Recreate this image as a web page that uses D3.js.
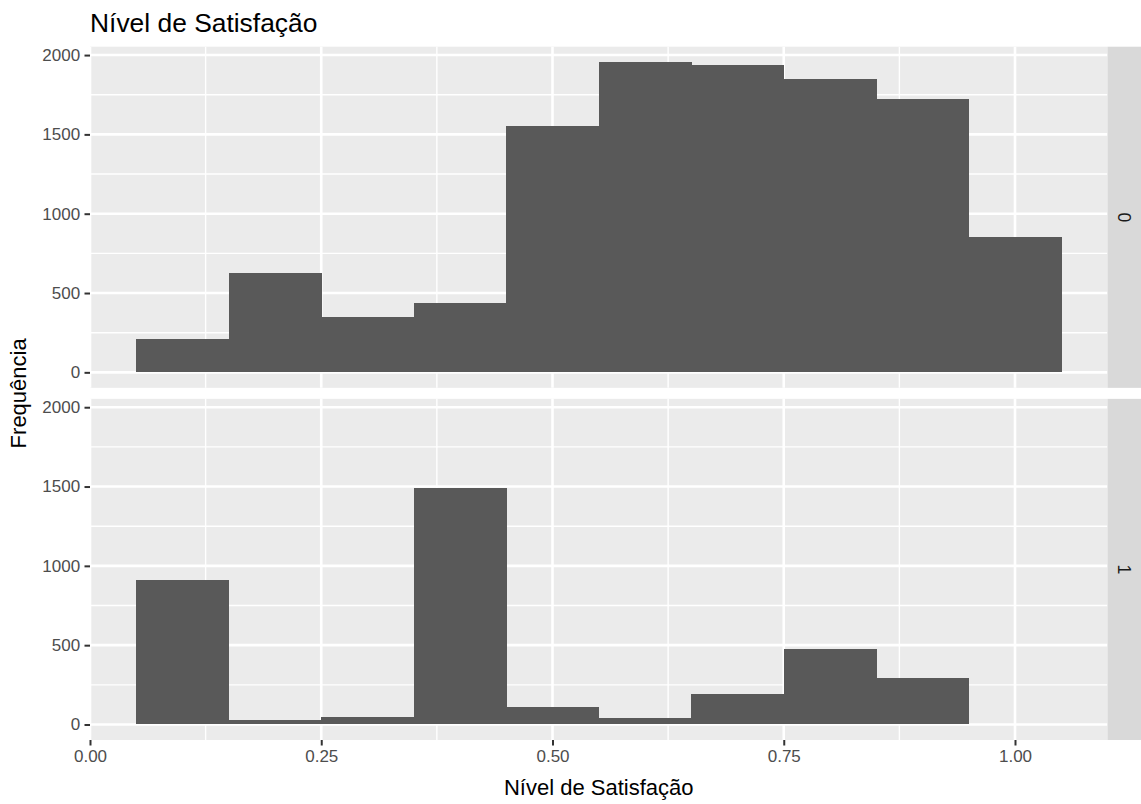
<!DOCTYPE html>
<html>
<head>
<meta charset="utf-8">
<script src="https://cdn.jsdelivr.net/npm/d3@7"></script>
<style>
  html, body { margin: 0; padding: 0; background: #ffffff; }
  svg { display: block; font-family: "Liberation Sans", Arial, sans-serif; }
</style>
</head>
<body>
<svg id="chart" width="1141" height="804"></svg>
<script>
// ---- data ----
const binStarts = [0.05, 0.15, 0.25, 0.35, 0.45, 0.55, 0.65, 0.75, 0.85, 0.95];
const binWidth = 0.1;
const facetLabels = ["0", "1"];
const countsFacet0 = [213, 629, 348, 436, 1552, 1955, 1936, 1848, 1724, 852];
const countsFacet1 = [912, 27, 46, 1489, 113, 42, 190, 477, 294, 0];
const xTicks = [0, 0.25, 0.5, 0.75, 1.0];
const xTickLabels = ["0.00", "0.25", "0.50", "0.75", "1.00"];
const yTicks = [0, 500, 1000, 1500, 2000];
const yTickLabels = ["0", "500", "1000", "1500", "2000"];
const titleText = "Nível de Satisfação";
const xTitle = "Nível de Satisfação";
const yTitle = "Frequência";

// ---- layout ----
const svg = d3.select("#chart");
const panelLeft = 90, panelRight = 1107.5;
const panelTop = 46.7, panelBottom = 740, gap = 11;
const panelH = (panelBottom - panelTop - gap) / 2;
const stripW = 34;

const xMin = d3.min(binStarts), xMax = d3.max(binStarts) + binWidth;
const xPad = (xMax - xMin) * 0.05;
const x = d3.scaleLinear().domain([xMin - xPad, xMax + xPad]).range([panelLeft, panelRight]);

const yMax = d3.max([...countsFacet0, ...countsFacet1]);
const yDom = [-0.05 * yMax, 1.05 * yMax];

const facets = [countsFacet0, countsFacet1];
const xMinor = [0.125, 0.375, 0.625, 0.875];
const yMinor = [250, 750, 1250, 1750];

facets.forEach((counts, i) => {
  const top = panelTop + i * (panelH + gap);
  const bottom = top + panelH;
  const y = d3.scaleLinear().domain(yDom).range([bottom, top]);
  const g = svg.append("g");

  g.append("rect").attr("x", panelLeft).attr("y", top)
    .attr("width", panelRight - panelLeft).attr("height", panelH).attr("fill", "#EBEBEB");

  // minor grid
  g.selectAll(".ymin").data(yMinor).enter().append("line")
    .attr("x1", panelLeft).attr("x2", panelRight)
    .attr("y1", d => y(d)).attr("y2", d => y(d))
    .attr("stroke", "#ffffff").attr("stroke-width", 1.4);
  g.selectAll(".xmin").data(xMinor).enter().append("line")
    .attr("y1", top).attr("y2", bottom)
    .attr("x1", d => x(d)).attr("x2", d => x(d))
    .attr("stroke", "#ffffff").attr("stroke-width", 1.4);
  // major grid
  g.selectAll(".ymaj").data(yTicks).enter().append("line")
    .attr("x1", panelLeft).attr("x2", panelRight)
    .attr("y1", d => y(d)).attr("y2", d => y(d))
    .attr("stroke", "#ffffff").attr("stroke-width", 2.6);
  g.selectAll(".xmaj").data(xTicks).enter().append("line")
    .attr("y1", top).attr("y2", bottom)
    .attr("x1", d => x(d)).attr("x2", d => x(d))
    .attr("stroke", "#ffffff").attr("stroke-width", 2.6);

  // bars
  g.selectAll(".bar").data(binStarts.map((b, k) => ({ b, v: counts[k] }))).enter().append("rect")
    .attr("x", d => x(d.b))
    .attr("width", d => x(d.b + binWidth) - x(d.b) + 0.5)
    .attr("y", d => y(d.v))
    .attr("height", d => y(0) - y(d.v))
    .attr("fill", "#595959")
    .attr("shape-rendering", "crispEdges");

  // y axis
  const yAxis = d3.axisLeft(y).tickValues(yTicks)
    .tickFormat((d, k) => yTickLabels[k]).tickSize(5.5).tickPadding(4.4);
  const ya = g.append("g").attr("transform", `translate(${panelLeft},0)`).call(yAxis);
  ya.select(".domain").remove();
  ya.selectAll(".tick line").attr("stroke", "#333333").attr("stroke-width", 2);
  ya.selectAll(".tick text").attr("fill", "#4D4D4D").attr("font-size", "17px")
    .attr("font-family", "'Liberation Sans', Arial, sans-serif");

  // strip
  g.append("rect").attr("x", panelRight).attr("y", top)
    .attr("width", stripW).attr("height", panelH).attr("fill", "#D9D9D9");
  g.append("text")
    .attr("transform", `translate(${panelRight + stripW / 2},${top + panelH / 2}) rotate(90)`)
    .attr("text-anchor", "middle").attr("dy", "0.35em")
    .attr("font-size", "17.6px").attr("fill", "#1A1A1A")
    .text(facetLabels[i]);
});

// x axis
const xAxis = d3.axisBottom(x).tickValues(xTicks)
  .tickFormat((d, k) => xTickLabels[k]).tickSize(5.5).tickPadding(4.4);
const xa = svg.append("g").attr("transform", `translate(0,${panelBottom})`).call(xAxis);
xa.select(".domain").remove();
xa.selectAll(".tick line").attr("stroke", "#333333").attr("stroke-width", 2);
xa.selectAll(".tick text").attr("fill", "#4D4D4D").attr("font-size", "17px")
  .attr("font-family", "'Liberation Sans', Arial, sans-serif");

// titles
svg.append("text").attr("x", panelLeft).attr("y", 32)
  .attr("font-size", "26.4px").attr("fill", "#000000").text(titleText);
svg.append("text").attr("x", (panelLeft + panelRight) / 2).attr("y", 795)
  .attr("text-anchor", "middle").attr("font-size", "22px").attr("fill", "#000000").text(xTitle);
svg.append("text")
  .attr("transform", `translate(26,${(panelTop + panelBottom) / 2}) rotate(-90)`)
  .attr("text-anchor", "middle").attr("font-size", "22px").attr("fill", "#000000").text(yTitle);
</script>
</body>
</html>
